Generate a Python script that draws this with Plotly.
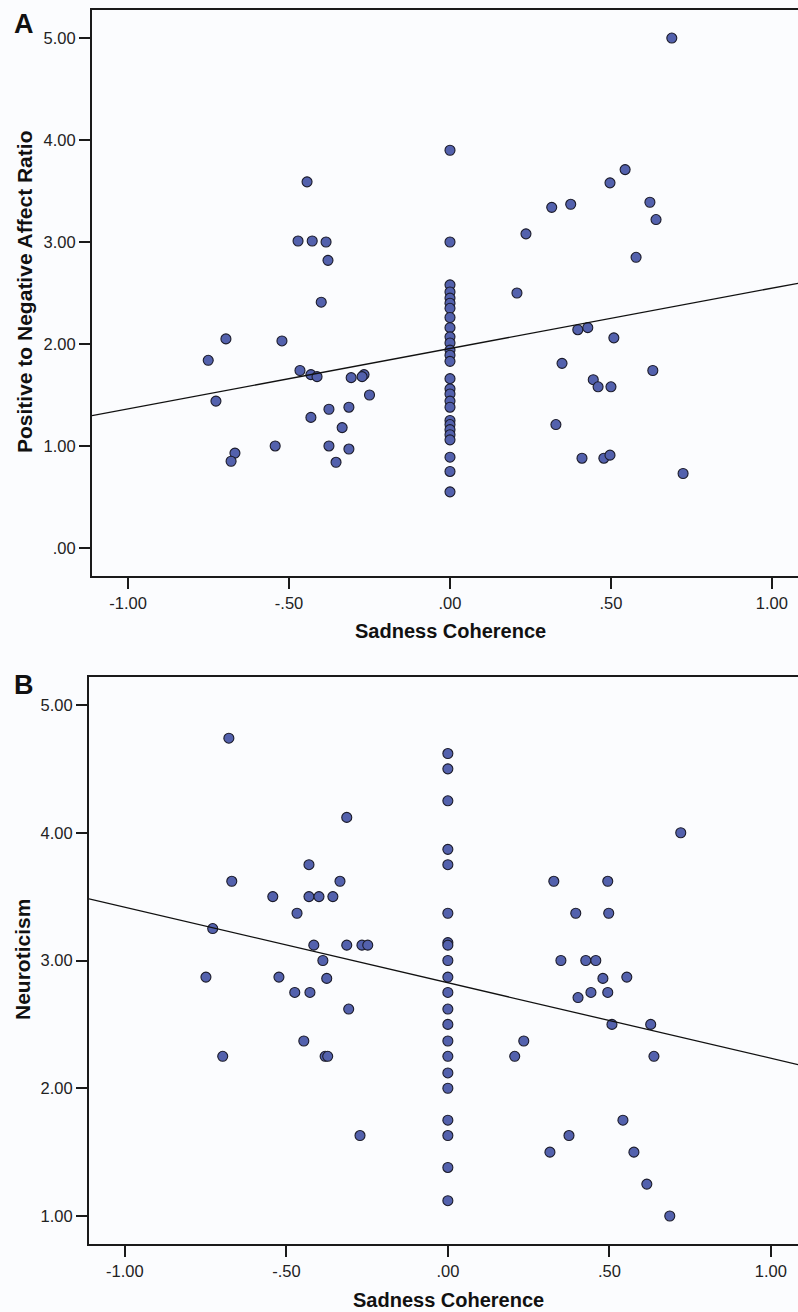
import numpy as np
import plotly.graph_objects as go

# ---------------- data ----------------
# Panel A: Sadness Coherence vs Positive to Negative Affect Ratio
a_x = [-0.444, -0.472, -0.428, -0.385, -0.379, -0.400,
       -0.696, -0.751, -0.522, -0.466, -0.432, -0.413, -0.307, -0.267, -0.273, -0.250,
       -0.727, -0.376, -0.314, -0.432, -0.335, -0.543, -0.376, -0.314, -0.668, -0.680, -0.354,
       0.689, 0.544, 0.497, 0.316, 0.375, 0.621, 0.640, 0.236, 0.578, 0.208, 0.397, 0.428,
       0.509, 0.348, 0.630, 0.445, 0.460, 0.500, 0.329, 0.410, 0.478, 0.497, 0.724,
       0, 0, 0, 0, 0, 0, 0, 0, 0, 0, 0, 0, 0, 0, 0, 0, 0, 0, 0, 0, 0, 0, 0, 0, 0, 0, 0]
a_y = [3.59, 3.01, 3.01, 3.00, 2.82, 2.41,
       2.05, 1.84, 2.03, 1.74, 1.70, 1.68, 1.67, 1.70, 1.68, 1.50,
       1.44, 1.36, 1.38, 1.28, 1.18, 1.00, 1.00, 0.97, 0.93, 0.85, 0.84,
       5.00, 3.71, 3.58, 3.34, 3.37, 3.39, 3.22, 3.08, 2.85, 2.50, 2.14, 2.16,
       2.06, 1.81, 1.74, 1.65, 1.58, 1.58, 1.21, 0.88, 0.88, 0.91, 0.73,
       3.90, 3.00, 2.58, 2.51, 2.45, 2.40, 2.35, 2.26, 2.16, 2.07, 2.01, 1.94, 1.89, 1.83,
       1.66, 1.56, 1.51, 1.44, 1.38, 1.25, 1.21, 1.16, 1.11, 1.06, 0.89, 0.75, 0.55]

# Panel B: Sadness Coherence vs Neuroticism
b_x = [-0.678, -0.313, -0.430, -0.669, -0.334, -0.542, -0.430, -0.399, -0.356, -0.467,
       -0.728, -0.415, -0.313, -0.266, -0.248, -0.387, -0.749, -0.523, -0.375, -0.474,
       -0.427, -0.307, -0.446, -0.697, -0.380, -0.372, -0.272,
       0.721, 0.328, 0.495, 0.396, 0.498, 0.350, 0.427, 0.458, 0.554, 0.480, 0.403, 0.443,
       0.495, 0.508, 0.628, 0.235, 0.207, 0.638, 0.542, 0.375, 0.316, 0.576, 0.616, 0.687,
       0, 0, 0, 0, 0, 0, 0, 0, 0, 0, 0, 0, 0, 0, 0, 0, 0, 0, 0, 0, 0]
b_y = [4.74, 4.12, 3.75, 3.62, 3.62, 3.50, 3.50, 3.50, 3.50, 3.37,
       3.25, 3.12, 3.12, 3.12, 3.12, 3.00, 2.87, 2.87, 2.86, 2.75,
       2.75, 2.62, 2.37, 2.25, 2.25, 2.25, 1.63,
       4.00, 3.62, 3.62, 3.37, 3.37, 3.00, 3.00, 3.00, 2.87, 2.86, 2.71, 2.75,
       2.75, 2.50, 2.50, 2.37, 2.25, 2.25, 1.75, 1.63, 1.50, 1.50, 1.25, 1.00,
       4.62, 4.50, 4.25, 3.87, 3.75, 3.37, 3.14, 3.12, 3.00, 2.87, 2.75, 2.62, 2.50,
       2.37, 2.25, 2.12, 2.00, 1.75, 1.63, 1.38, 1.12]

x_tickvals = [-1.0, -0.5, 0.0, 0.5, 1.0]
x_ticktext = ["-1.00", "-.50", ".00", ".50", "1.00"]
a_tickvals = [0, 1, 2, 3, 4, 5]
a_ticktext = [".00", "1.00", "2.00", "3.00", "4.00", "5.00"]
b_tickvals = [1, 2, 3, 4, 5]
b_ticktext = ["1.00", "2.00", "3.00", "4.00", "5.00"]

x_title = "Sadness Coherence"
a_ytitle = "Positive to Negative Affect Ratio"
b_ytitle = "Neuroticism"

# ---------------- styling ----------------
W, H = 798, 1312
BG = "#fbfcfe"
FILL = "#5361ad"
EDGE = "#1b1b2a"
FONT = "Liberation Sans, Arial, sans-serif"

a_xrange = [-1.112, 1.081]
a_yrange = [-0.275, 5.275]
b_xrange = [-1.111, 1.084]
b_yrange = [0.781, 5.219]

fig = go.Figure()

def add_panel(xs, ys, xa, ya, xr):
    fig.add_trace(go.Scatter(
        x=xs, y=ys, mode="markers", xaxis=xa, yaxis=ya, showlegend=False,
        marker=dict(size=10, color=FILL, line=dict(color=EDGE, width=1.1)),
        hoverinfo="x+y"))
    slope, icpt = np.polyfit(np.array(xs), np.array(ys), 1)
    lx = np.array(xr)
    fig.add_trace(go.Scatter(
        x=lx, y=icpt + slope * lx, mode="lines", xaxis=xa, yaxis=ya,
        showlegend=False, line=dict(color="#111111", width=1.3), hoverinfo="skip"))

add_panel(a_x, a_y, "x", "y", a_xrange)
add_panel(b_x, b_y, "x2", "y2", b_xrange)

def px_dom_x(left, right):
    return [left / W, right / W]

def px_dom_y(top, bottom):
    return [1 - bottom / H, 1 - top / H]

axis_common = dict(showgrid=False, zeroline=False, showline=True, linecolor="#1a1a1a",
                   linewidth=2, ticks="outside", ticklen=11, tickwidth=2,
                   tickcolor="#1a1a1a",
                   tickfont=dict(family=FONT, size=16.5, color="#222222"))

fig.update_layout(
    width=W, height=H, paper_bgcolor=BG, plot_bgcolor=BG,
    margin=dict(l=0, r=0, t=0, b=0),
    xaxis=dict(domain=px_dom_x(92, 798), range=a_xrange, anchor="y",
               tickvals=x_tickvals, ticktext=x_ticktext, mirror=True, **axis_common),
    yaxis=dict(domain=px_dom_y(10, 576), range=a_yrange, anchor="x",
               tickvals=a_tickvals, ticktext=a_ticktext, **axis_common),
    xaxis2=dict(domain=px_dom_x(89, 798), range=b_xrange, anchor="y2",
                tickvals=x_tickvals, ticktext=x_ticktext, mirror=True, **axis_common),
    yaxis2=dict(domain=px_dom_y(677, 1244), range=b_yrange, anchor="x2",
                tickvals=b_tickvals, ticktext=b_ticktext, **axis_common),
)

xtitle_font = dict(family=FONT, size=20, color="#111111")
ytitle_font = dict(family=FONT, size=21, color="#111111")
letter_font = dict(family=FONT, size=27, color="#111111")

annotations = [
    dict(text="<b>A</b>", x=12 / W, y=1 - 24 / H, xanchor="left", yanchor="middle",
         font=letter_font),
    dict(text="<b>B</b>", x=12 / W, y=1 - 685 / H, xanchor="left", yanchor="middle",
         font=letter_font),
    dict(text="<b>" + x_title + "</b>", x=450 / W, y=1 - 631 / H, xanchor="center",
         yanchor="middle", font=xtitle_font),
    dict(text="<b>" + x_title + "</b>", x=448 / W, y=1 - 1300 / H, xanchor="center",
         yanchor="middle", font=xtitle_font),
    dict(text="<b>" + a_ytitle + "</b>", x=25 / W, y=1 - 292 / H, xanchor="center",
         yanchor="middle", textangle=-90, font=ytitle_font),
    dict(text="<b>" + b_ytitle + "</b>", x=22 / W, y=1 - 960 / H, xanchor="center",
         yanchor="middle", textangle=-90, font=ytitle_font),
]
for a in annotations:
    a.update(xref="paper", yref="paper", showarrow=False)
fig.update_layout(annotations=annotations)

page_js = ("document.body.style.margin='0';document.body.style.padding='0';"
           "document.body.style.overflow='hidden';"
           "document.body.style.background='" + BG + "';")
fig.write_html("out.html", post_script=page_js, config={"displayModeBar": False})
